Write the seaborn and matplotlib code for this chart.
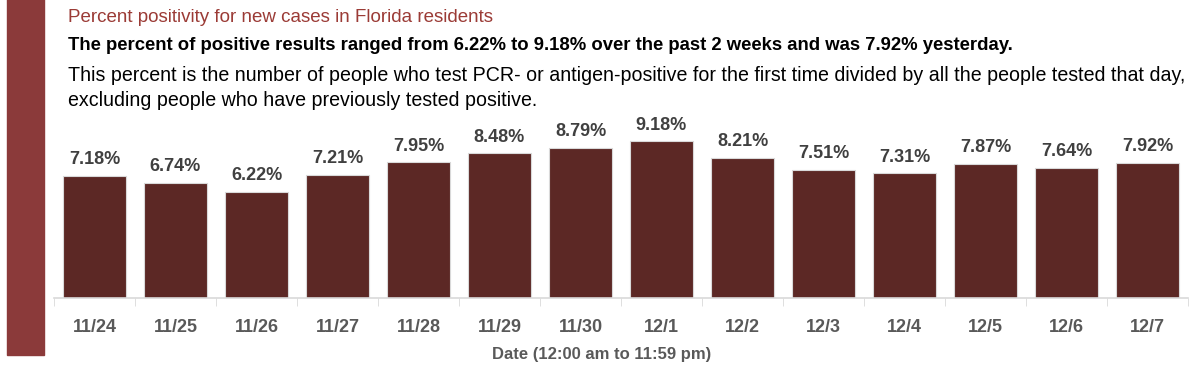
import matplotlib
matplotlib.use("Agg")
import matplotlib.pyplot as plt
import seaborn as sns
import pandas as pd

dates = ["11/24", "11/25", "11/26", "11/27", "11/28", "11/29", "11/30",
         "12/1", "12/2", "12/3", "12/4", "12/5", "12/6", "12/7"]
positivity = [7.18, 6.74, 6.22, 7.21, 7.95, 8.48, 8.79,
              9.18, 8.21, 7.51, 7.31, 7.87, 7.64, 7.92]

title = "Percent positivity for new cases in Florida residents"
subtitle = ("The percent of positive results ranged from 6.22% to 9.18% "
            "over the past 2 weeks and was 7.92% yesterday.")
note = ("This percent is the number of people who test PCR- or antigen-positive "
        "for the first time divided by all the people tested that day,\n"
        "excluding people who have previously tested positive.")
xlabel = "Date (12:00 am to 11:59 pm)"


def main():
    sns.set_style("white")
    plt.rcParams['font.family'] = ['Liberation Sans', 'DejaVu Sans']

    df = pd.DataFrame({"date": dates, "pct": positivity})

    fig = plt.figure(figsize=(12, 3.68), dpi=100)
    ax = fig.add_axes([0.045, 0.19, 0.945, 0.51])

    sns.barplot(x="date", y="pct", data=df, color="#5c2825", saturation=1,
                width=0.77, edgecolor="#d9d9d9", linewidth=0.8, ax=ax)

    for i, v in enumerate(positivity):
        ax.text(i, v + 0.45, f"{v:.2f}%", ha="center", va="bottom",
                fontsize=13, fontweight="bold", color="#404040")

    ax.set_ylim(0, 11)
    ax.set_xlim(-0.5, len(dates) - 0.5)
    ax.set_yticks([])
    ax.set_ylabel("")
    ax.set_xlabel(xlabel, fontsize=12, fontweight="bold", color="#595959",
                  va="center")
    ax.xaxis.set_label_coords((602 - 54) / 1134, -57 / 188)
    for s in ["top", "right", "left"]:
        ax.spines[s].set_visible(False)
    ax.spines["bottom"].set_color("#d9d9d9")
    ax.spines["bottom"].set_linewidth(1.2)
    ax.set_xticks([i - 0.5 for i in range(len(dates) + 1)], minor=True)
    ax.tick_params(axis="x", which="minor", length=6, color="#d9d9d9", bottom=True)
    ax.tick_params(axis="x", which="major", length=0, pad=15,
                   labelsize=13, labelcolor="#595959")
    for lab in ax.get_xticklabels():
        lab.set_fontweight("bold")

    # left accent band
    fig.patches.append(plt.Rectangle((7 / 1200, 13 / 368), 37 / 1200, 1,
                                     transform=fig.transFigure,
                                     color="#8b3a3a", zorder=0))

    fig.text(68 / 1200, 1 - 17 / 368, title, fontsize=13.5, color="#9b3b36",
             va="center", ha="left")
    fig.text(68 / 1200, 1 - 46 / 368, subtitle, fontsize=13.3, fontweight="bold",
             color="black", va="center", ha="left")
    fig.text(68 / 1200, 1 - 88 / 368, note, fontsize=14.1, color="black",
             va="center", ha="left", linespacing=1.35)

    fig.savefig("out.png", dpi=100)


if __name__ == '__main__':
    main()
